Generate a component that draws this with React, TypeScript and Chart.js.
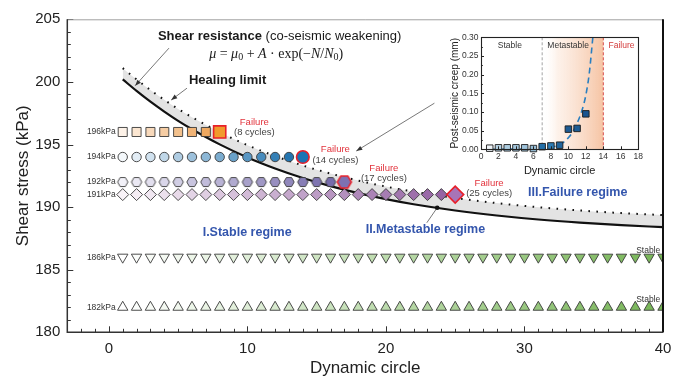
import React, { useEffect, useRef } from 'react';
import { Chart, registerables } from 'chart.js';

Chart.register(...registerables);

const SANS = '"Liberation Sans", Arial, Helvetica, sans-serif';
const SERIF = '"Liberation Serif", "DejaVu Serif", serif';

// ---------------- main chart data ----------------
const curveCycles = [1, 2, 3, 4, 5, 6, 8, 10, 12, 14, 16, 18, 20, 22, 25, 28, 31, 34, 37, 40];
const shearResistance = [200.2, 199.28, 198.42, 197.63, 196.89, 196.22, 195.01, 193.97, 193.09, 192.33, 191.68, 191.12, 190.64, 190.23, 189.73, 189.33, 189.01, 188.76, 188.56, 188.4];
const healingLimit = [201.1, 200.2, 199.35, 198.57, 197.84, 197.18, 195.98, 194.95, 194.08, 193.32, 192.68, 192.12, 191.64, 191.23, 190.73, 190.32, 189.99, 189.73, 189.52, 189.36];

const stressLevels = [196, 194, 192, 191, 186, 182];
const levelLabels = ['196kPa', '194kPa', '192kPa', '191kPa', '186kPa', '182kPa'];
const cyclesApplied = [8, 14, 17, 25, 40, 40];
const failureCycleLabels = ['(8 cycles)', '(14 cycles)', '(17 cycles)', '(25 cycles)'];
const stableLabels = ['Stable', 'Stable'];
const xTickValues = [0, 10, 20, 30, 40];
const yTickValues = [180, 185, 190, 195, 200, 205];

// ---------------- inset data ----------------
const creepCycles = [1, 2, 3, 4, 5, 6, 7, 8, 9, 10, 11, 12];
const creepValues = [0.003, 0.004, 0.004, 0.004, 0.004, 0.002, 0.007, 0.009, 0.011, 0.054, 0.056, 0.095];
const creepFitCycles = [1, 3, 5, 7, 8, 9, 9.5, 10, 10.5, 11, 11.5, 12, 12.4, 12.8];
const creepFitValues = [0, 0.0005, 0.001, 0.003, 0.006, 0.012, 0.02, 0.031, 0.047, 0.07, 0.1, 0.145, 0.205, 0.3];
const insetXTicks = [0, 2, 4, 6, 8, 10, 12, 14, 16, 18];
const insetYTicks = [0, 0.05, 0.1, 0.15, 0.2, 0.25, 0.3];
const creepColors = ['#eef3f7', '#b7d3e5', '#adcde1', '#a6c8de', '#9fc3db', '#97bed8', '#236fa8', '#2c7bb4', '#20649c', '#1c5a92', '#1d5c94', '#1a5590'];

// ---------------- styles ----------------
const seriesStyle: any[] = [
  { shape: 'rect', from: '#fdf2e8', to: '#eea860', fail: '#f19a2c', r: 6.4, rf: 8.6, rot: 0 },
  { shape: 'circle', from: '#f4f8fb', to: '#2475b0', fail: '#1a74b4', r: 4.7, rf: 6.3, rot: 0 },
  { shape: 'hex', from: '#f2f1f8', to: '#776cac', fail: '#7d71b2', r: 5.2, rf: 7, rot: 0 },
  { shape: 'rectRot', from: '#f9f3f8', to: '#9564a4', fail: '#a874b6', r: 6, rf: 8.5, rot: 0 },
  { shape: 'triangle', from: '#ffffff', to: '#76b556', fail: '', r: 6, rf: 6, rot: 180 },
  { shape: 'triangle', from: '#ffffff', to: '#76b556', fail: '', r: 6, rf: 6, rot: 0 },
];

function hexToRgb(h: string) {
  const v = parseInt(h.slice(1), 16);
  return [(v >> 16) & 255, (v >> 8) & 255, v & 255];
}
function mix(a: string, b: string, t: number) {
  const A = hexToRgb(a), B = hexToRgb(b);
  const c = A.map((x, i) => Math.round(x + (B[i] - x) * t));
  return `rgb(${c[0]},${c[1]},${c[2]})`;
}
function hexImage(fill: string, stroke: string, lw: number, r: number) {
  const s = Math.ceil(r + lw + 1) * 2;
  const c = document.createElement('canvas');
  c.width = s; c.height = s;
  const g = c.getContext('2d')!;
  g.beginPath();
  for (let i = 0; i < 6; i++) {
    const a = (Math.PI / 3) * i;
    const px = s / 2 + r * Math.cos(a), py = s / 2 + r * Math.sin(a);
    if (i) g.lineTo(px, py); else g.moveTo(px, py);
  }
  g.closePath();
  g.fillStyle = fill; g.fill();
  g.lineWidth = lw; g.strokeStyle = stroke; g.stroke();
  return c;
}

function buildMarkerSets() {
  return stressLevels.map((lvl, si) => {
    const st = seriesStyle[si];
    const n = cyclesApplied[si];
    const failedSeries = si < failureCycleLabels.length;
    const m = failedSeries ? n - 1 : n;
    const data: any[] = [], bg: any[] = [], bc: any[] = [], bw: any[] = [], rad: any[] = [], ps: any[] = [];
    for (let i = 0; i < n; i++) {
      const isFail = failedSeries && i === n - 1;
      const t = m > 1 ? Math.min(i, m - 1) / (m - 1) : 0;
      const fill = isFail ? st.fail : mix(st.from, st.to, t);
      const stroke = isFail ? '#e8202a' : '#3a3a3a';
      const lw = isFail ? 1.6 : 0.9;
      const r = isFail ? st.rf : st.r;
      data.push({ x: i + 1, y: lvl });
      bg.push(fill); bc.push(stroke); bw.push(lw); rad.push(r);
      ps.push(st.shape === 'hex' ? hexImage(fill, stroke, lw, r) : st.shape);
    }
    return {
      label: levelLabels[si],
      data,
      showLine: false,
      pointStyle: ps,
      pointRadius: rad,
      pointBackgroundColor: bg,
      pointBorderColor: bc,
      pointBorderWidth: bw,
      pointRotation: st.rot,
      order: 1,
      clip: st.shape === 'triangle' ? 0 : false,
    };
  });
}

function arrow(ctx: CanvasRenderingContext2D, x1: number, y1: number, x2: number, y2: number, head = true) {
  ctx.save();
  ctx.strokeStyle = '#555'; ctx.fillStyle = '#333'; ctx.lineWidth = 0.8;
  ctx.beginPath(); ctx.moveTo(x1, y1); ctx.lineTo(x2, y2); ctx.stroke();
  if (head) {
    const a = Math.atan2(y2 - y1, x2 - x1), L = 6, W = 2.3;
    ctx.beginPath();
    ctx.moveTo(x2, y2);
    ctx.lineTo(x2 - L * Math.cos(a) + W * Math.sin(a), y2 - L * Math.sin(a) - W * Math.cos(a));
    ctx.lineTo(x2 - L * Math.cos(a) - W * Math.sin(a), y2 - L * Math.sin(a) + W * Math.cos(a));
    ctx.closePath(); ctx.fill();
  }
  ctx.restore();
}

const mainFrame = {
  id: 'mainFrame',
  afterDraw(chart: any) {
    const { ctx, chartArea: a } = chart;
    const xs = chart.scales.x, ys = chart.scales.y;
    ctx.save();
    ctx.strokeStyle = '#333';
    ctx.lineWidth = 1;
    for (let v = 180; v <= 205; v++) {
      const y = Math.round(ys.getPixelForValue(v)) + 0.5;
      const len = v % 5 === 0 ? 6 : 3.5;
      ctx.beginPath(); ctx.moveTo(a.left, y); ctx.lineTo(a.left + len, y); ctx.stroke();
    }
    for (let v = -3; v <= 40; v++) {
      const x = Math.round(xs.getPixelForValue(v)) + 0.5;
      const len = v % 10 === 0 ? 6 : 3.5;
      ctx.beginPath(); ctx.moveTo(x, a.bottom); ctx.lineTo(x, a.bottom - len); ctx.stroke();
    }
    ctx.strokeStyle = '#a0a0a0'; ctx.lineWidth = 1;
    ctx.beginPath(); ctx.moveTo(a.left, a.top + 0.5); ctx.lineTo(a.right, a.top + 0.5); ctx.stroke();
    ctx.strokeStyle = '#111'; ctx.lineWidth = 2;
    ctx.beginPath(); ctx.moveTo(a.right, a.top); ctx.lineTo(a.right, a.bottom); ctx.stroke();
    ctx.strokeStyle = '#333'; ctx.lineWidth = 1.5;
    ctx.beginPath(); ctx.moveTo(a.left, a.top); ctx.lineTo(a.left, a.bottom); ctx.lineTo(a.right, a.bottom); ctx.stroke();
    ctx.restore();
  },
};

const failureLabelPos = [[10.5, 196.8, 196.0], [16.35, 194.65, 193.75], [19.85, 193.1, 192.3], [27.45, 191.9, 191.1]];

const mainAnnotations = {
  id: 'mainAnnotations',
  afterDatasetsDraw(chart: any) {
    const { ctx } = chart;
    const xs = chart.scales.x, ys = chart.scales.y;
    const X = (v: number) => xs.getPixelForValue(v);
    const Y = (v: number) => ys.getPixelForValue(v);
    ctx.save();
    ctx.textBaseline = 'middle';

    ctx.textAlign = 'left';
    ctx.fillStyle = '#1a1a1a';
    ctx.font = `bold 13px ${SANS}`;
    const tx = X(3.54), ty = Y(203.67);
    ctx.fillText('Shear resistance', tx, ty);
    const w1 = ctx.measureText('Shear resistance ').width;
    ctx.font = `13px ${SANS}`;
    ctx.fillText('(co-seismic weakening)', tx + w1, ty);

    const pieces: [string, string][] = [['μ', 'i'], [' = ', 'n'], ['μ', 'i'], ['0', 's'], [' + ', 'n'], ['A', 'i'], [' · exp(−', 'n'], ['N', 'i'], ['/', 'n'], ['N', 'i'], ['0', 's'], [')', 'n']];
    const fnt = (k: string) => (k === 'i' ? `italic 14px ${SERIF}` : k === 's' ? `10px ${SERIF}` : `14px ${SERIF}`);
    let total = 0;
    pieces.forEach(([s, k]) => { ctx.font = fnt(k); total += ctx.measureText(s).width; });
    let fx = X(12.08) - total / 2; const fy = Y(202.23);
    pieces.forEach(([s, k]) => {
      ctx.font = fnt(k);
      ctx.fillText(s, fx, k === 's' ? fy + 3 : fy);
      fx += ctx.measureText(s).width;
    });

    ctx.font = `bold 13px ${SANS}`;
    ctx.fillText('Healing limit', X(5.78), Y(200.15));

    arrow(ctx, X(4.34), Y(202.7), X(1.9), Y(199.7));
    arrow(ctx, X(5.64), Y(199.5), X(4.5), Y(198.55));
    arrow(ctx, X(23.5), Y(198.3), X(17.86), Y(194.48));

    ctx.font = `8.5px ${SANS}`;
    ctx.fillStyle = '#333';
    ctx.textAlign = 'right';
    stressLevels.forEach((lvl, i) => ctx.fillText(levelLabels[i], X(1) - 7, Y(lvl)));
    ctx.fillText(stableLabels[0], X(39.8), Y(186.5));
    ctx.fillText(stableLabels[1], X(39.8), Y(182.6));

    ctx.textAlign = 'center';
    failureCycleLabels.forEach((lab, i) => {
      const p = failureLabelPos[i];
      ctx.font = `9.5px ${SANS}`;
      ctx.fillStyle = '#e2333c';
      ctx.fillText('Failure', X(p[0]), Y(p[1]));
      ctx.fillStyle = '#444';
      ctx.fillText(lab, X(p[0]), Y(p[2]));
    });

    ctx.font = `bold 12.5px ${SANS}`;
    ctx.fillStyle = '#3456ad';
    ctx.fillText('I.Stable regime', X(9.98), Y(188.0));
    ctx.fillText('II.Metastable regime', X(22.85), Y(188.17));
    ctx.fillText('III.Failure regime', X(33.84), Y(191.15));

    arrow(ctx, X(23.7), Y(189.95), X(22.95), Y(188.75), false);
    ctx.fillStyle = '#111';
    ctx.beginPath(); ctx.arc(X(23.7), Y(189.95), 2.3, 0, Math.PI * 2); ctx.fill();
    ctx.restore();
  },
};

const insetDecor = {
  id: 'insetDecor',
  beforeDatasetsDraw(chart: any) {
    const { ctx, chartArea: a } = chart;
    const xs = chart.scales.x;
    const x7 = xs.getPixelForValue(7), x14 = xs.getPixelForValue(14);
    ctx.save();
    const g = ctx.createLinearGradient(x7, 0, x14, 0);
    g.addColorStop(0, 'rgba(255,255,255,0)');
    g.addColorStop(0.25, 'rgba(252,236,225,0.7)');
    g.addColorStop(1, 'rgba(246,196,164,1)');
    ctx.fillStyle = g;
    ctx.fillRect(x7, a.top, x14 - x7, a.bottom - a.top);
    ctx.lineWidth = 0.9;
    ctx.setLineDash([3, 2]);
    ctx.strokeStyle = '#999';
    ctx.beginPath(); ctx.moveTo(x7, a.top); ctx.lineTo(x7, a.bottom); ctx.stroke();
    ctx.strokeStyle = '#d23a3a';
    ctx.beginPath(); ctx.moveTo(x14, a.top); ctx.lineTo(x14, a.bottom); ctx.stroke();
    ctx.setLineDash([]);
    ctx.font = `8.5px ${SANS}`;
    ctx.textAlign = 'center'; ctx.textBaseline = 'middle';
    const ys = chart.scales.y;
    ctx.fillStyle = '#333';
    ctx.fillText('Stable', xs.getPixelForValue(3.3), ys.getPixelForValue(0.277));
    ctx.fillText('Metastable', xs.getPixelForValue(9.97), ys.getPixelForValue(0.277));
    ctx.fillStyle = '#d23a3a';
    ctx.fillText('Failure', xs.getPixelForValue(16.08), ys.getPixelForValue(0.277));
    ctx.restore();
  },
  afterDraw(chart: any) {
    const { ctx, chartArea: a } = chart;
    const xs = chart.scales.x, ys = chart.scales.y;
    ctx.save();
    ctx.strokeStyle = '#222'; ctx.lineWidth = 1;
    for (let v = 0; v <= 18; v += 2) {
      const x = Math.round(xs.getPixelForValue(v)) + 0.5;
      ctx.beginPath(); ctx.moveTo(x, a.bottom); ctx.lineTo(x, a.bottom - 3); ctx.stroke();
    }
    for (let k = 0; k <= 12; k++) {
      const y = Math.round(ys.getPixelForValue(k * 0.025)) + 0.5;
      const len = k % 2 === 0 ? 3 : 1.8;
      ctx.beginPath(); ctx.moveTo(a.left, y); ctx.lineTo(a.left + len, y); ctx.stroke();
    }
    ctx.lineWidth = 1.1;
    ctx.strokeRect(Math.round(a.left) + 0.5, Math.round(a.top) + 0.5, Math.round(a.right - a.left), Math.round(a.bottom - a.top));
    ctx.restore();
  },
};

export default function App() {
  const mainRef = useRef<HTMLCanvasElement>(null);
  const insetRef = useRef<HTMLCanvasElement>(null);

  useEffect(() => {
    const markerSets = buildMarkerSets();
    const main = new Chart(mainRef.current!, {
      type: 'scatter',
      data: {
        datasets: [
          {
            label: 'Shear resistance',
            data: curveCycles.map((c, i) => ({ x: c, y: shearResistance[i] })),
            showLine: true,
            borderColor: '#111',
            borderWidth: 2.2,
            pointRadius: 0,
            cubicInterpolationMode: 'monotone',
            order: 5,
          } as any,
          {
            label: 'Healing limit',
            data: curveCycles.map((c, i) => ({ x: c, y: healingLimit[i] })),
            showLine: true,
            borderColor: '#111',
            borderWidth: 2,
            borderDash: [1.6, 6.4],
            pointRadius: 0,
            cubicInterpolationMode: 'monotone',
            fill: 0,
            backgroundColor: '#e3e3e3',
            order: 6,
          } as any,
          ...markerSets,
        ],
      },
      options: {
        responsive: false,
        animation: false,
        events: [],
        layout: { padding: { top: 19.3, right: 17, left: 0, bottom: 0 } },
        plugins: { legend: { display: false }, tooltip: { enabled: false } },
        scales: {
          x: {
            type: 'linear', min: -3, max: 40,
            grid: { display: false, drawTicks: false }, border: { display: false },
            afterBuildTicks: (s: any) => { s.ticks = xTickValues.map((v) => ({ value: v })); },
            ticks: { padding: 8, color: '#222', font: { family: SANS, size: 15 }, maxRotation: 0, autoSkip: false },
            title: { display: true, text: 'Dynamic circle', color: '#222', font: { family: SANS, size: 17 }, padding: { top: 0, bottom: 0 } },
            afterFit: (s: any) => { s.height = 46.7; },
          },
          y: {
            type: 'linear', min: 180, max: 205,
            grid: { display: false, drawTicks: false }, border: { display: false },
            afterBuildTicks: (s: any) => { s.ticks = yTickValues.map((v) => ({ value: v })); },
            ticks: { padding: 7, color: '#222', font: { family: SANS, size: 15 }, autoSkip: false },
            title: { display: true, text: 'Shear stress (kPa)', color: '#222', font: { family: SANS, size: 17 }, padding: { top: 13, bottom: 0 } },
            afterFit: (s: any) => { s.width = 67.3; },
          },
        },
      } as any,
      plugins: [mainFrame, mainAnnotations],
    });

    const inset = new Chart(insetRef.current!, {
      type: 'scatter',
      data: {
        datasets: [
          {
            label: 'fit',
            data: creepFitCycles.map((c, i) => ({ x: c, y: creepFitValues[i] })),
            showLine: true,
            borderColor: '#2a7fc0',
            borderWidth: 1.6,
            borderDash: [6, 4],
            pointRadius: 0,
            cubicInterpolationMode: 'monotone',
            order: 3,
          } as any,
          {
            label: 'creep',
            data: creepCycles.map((c, i) => ({ x: c, y: creepValues[i] })),
            showLine: false,
            pointStyle: 'rect',
            pointRadius: 4.6,
            pointBackgroundColor: creepColors,
            pointBorderColor: '#1a1a1a',
            pointBorderWidth: 0.9,
            clip: false,
            order: 1,
          } as any,
        ],
      },
      options: {
        responsive: false,
        animation: false,
        events: [],
        layout: { padding: { top: 9.3, right: 5, left: 0, bottom: 0 } },
        plugins: { legend: { display: false }, tooltip: { enabled: false } },
        scales: {
          x: {
            type: 'linear', min: 0, max: 18,
            grid: { display: false, drawTicks: false }, border: { display: false },
            afterBuildTicks: (s: any) => { s.ticks = insetXTicks.map((v) => ({ value: v })); },
            ticks: { padding: 2, color: '#333', font: { family: SANS, size: 8.5 }, maxRotation: 0, autoSkip: false },
            title: { display: true, text: 'Dynamic circle', color: '#222', font: { family: SANS, size: 11 }, padding: { top: 0, bottom: 2.4 } },
            afterFit: (s: any) => { s.height = 30.7; },
          },
          y: {
            type: 'linear', min: 0, max: 0.3,
            grid: { display: false, drawTicks: false }, border: { display: false },
            afterBuildTicks: (s: any) => { s.ticks = insetYTicks.map((v) => ({ value: v })); },
            ticks: { padding: 2.5, color: '#333', font: { family: SANS, size: 8.5 }, autoSkip: false, callback: (v: any) => Number(v).toFixed(2) },
            title: { display: true, text: 'Post-seismic creep (mm)', color: '#222', font: { family: SANS, size: 10 }, padding: { top: 9, bottom: 0 } },
            afterFit: (s: any) => { s.width = 41; },
          },
        },
      } as any,
      plugins: [insetDecor],
    });

    return () => { main.destroy(); inset.destroy(); };
  }, []);

  return (
    <div style={{ position: 'absolute', left: 0, top: 0, width: 680, height: 379, background: '#fff' }}>
      <canvas ref={mainRef} width={680} height={379} style={{ position: 'absolute', left: 0, top: 0, width: 680, height: 379 }} />
      <canvas ref={insetRef} width={205} height={152} style={{ position: 'absolute', left: 440, top: 28, width: 205, height: 152 }} />
    </div>
  );
}
